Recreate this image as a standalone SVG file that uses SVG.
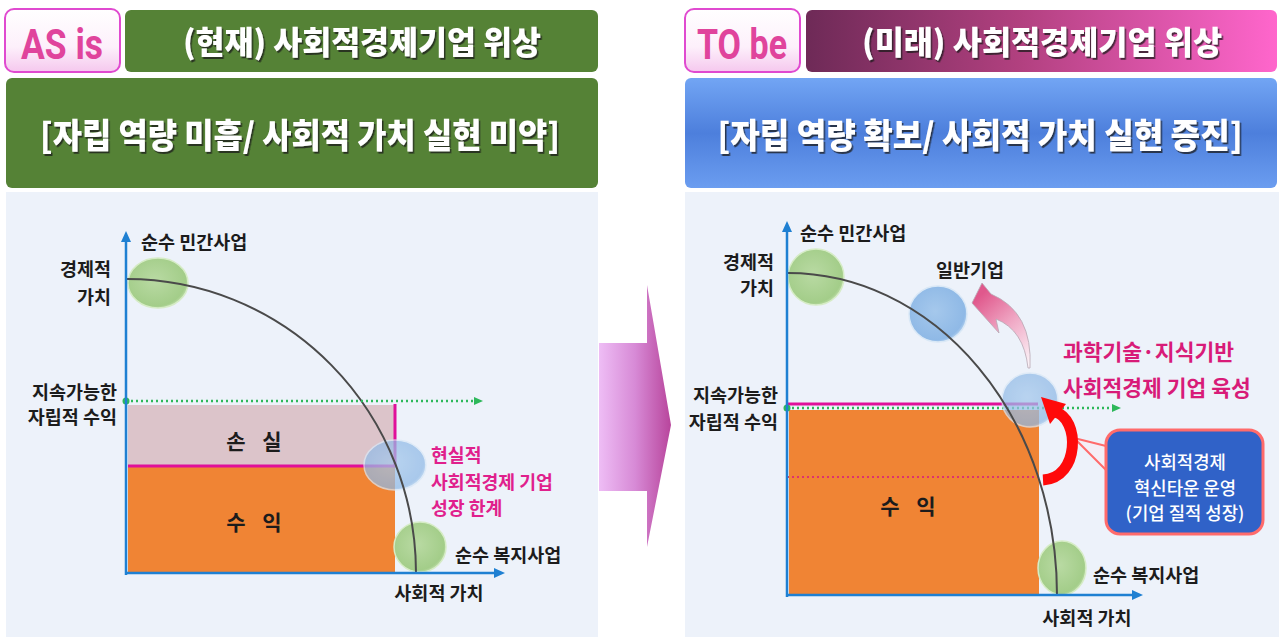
<svg xmlns="http://www.w3.org/2000/svg" width="1279" height="637" viewBox="0 0 1279 637">
<defs>
<style>
.hd{font-family:"Noto Sans CJK KR","Noto Sans",sans-serif;font-weight:900;fill:#ffffff;text-anchor:middle}
.tag{font-family:"Roboto","Liberation Sans",sans-serif;font-weight:700;fill:#e0449c;text-anchor:middle}
.lb{font-family:"Noto Sans CJK KR","Noto Sans",sans-serif;font-weight:700;fill:#1c1c1c;font-size:18.5px}
.pk{font-family:"Noto Sans CJK KR","Noto Sans",sans-serif;font-weight:700;fill:#e0208c;font-size:18.3px}
.pk2{font-family:"Noto Sans CJK KR","Noto Sans",sans-serif;font-weight:700;fill:#d81b78;font-size:21.5px}
.cw{font-family:"Noto Sans CJK KR","Noto Sans",sans-serif;font-weight:500;fill:#ffffff;font-size:17.8px;text-anchor:middle}
.big{font-family:"Noto Sans CJK KR","Noto Sans",sans-serif;font-weight:700;fill:#1c1c1c;font-size:21px;text-anchor:middle;word-spacing:12px}
.axis{stroke:#1f80d2;stroke-width:2.5;fill:none}
.axh{fill:#1f80d2}
.curve{stroke:#4a4a4a;stroke-width:2;fill:none}
.gdot{stroke:#2db85a;stroke-width:2.5;stroke-dasharray:2 3;fill:none}
.gfill{fill:#2db85a}
.mg{stroke:#e0109a;stroke-width:3;fill:none}
.orange{fill:#f08434}
.ge{fill:url(#gG);stroke:#d6ecc6;stroke-width:1.5}
.be{fill:url(#gB);stroke:#d9e8f6;stroke-width:1.5}
.panel{fill:#edf2fa}
</style>
<linearGradient id="gTag" x1="0" y1="0" x2="0" y2="1">
<stop offset="0" stop-color="#ffffff"/><stop offset="0.6" stop-color="#fdf0fb"/><stop offset="1" stop-color="#f5c8ee"/>
</linearGradient>
<linearGradient id="gPink" x1="0" y1="0" x2="1" y2="0">
<stop offset="0" stop-color="#6e2a57"/><stop offset="0.45" stop-color="#b1407f"/><stop offset="1" stop-color="#ff66cc"/>
</linearGradient>
<linearGradient id="gBlue" x1="0" y1="0" x2="0" y2="1">
<stop offset="0" stop-color="#72a5f4"/><stop offset="0.5" stop-color="#4d7fdc"/><stop offset="1" stop-color="#6b9df0"/>
</linearGradient>
<linearGradient id="gArrow" x1="0" y1="0" x2="1" y2="0">
<stop offset="0" stop-color="#eebdf5"/><stop offset="0.5" stop-color="#d78ad6"/><stop offset="1" stop-color="#b8459c"/>
</linearGradient>
<linearGradient id="gCurl" gradientUnits="userSpaceOnUse" x1="975" y1="300" x2="1030" y2="362">
<stop offset="0" stop-color="#e0588c"/><stop offset="0.5" stop-color="#f0aac6"/><stop offset="1" stop-color="#fbf1f6"/>
</linearGradient>
<radialGradient id="gG" cx="0.45" cy="0.45" r="0.6">
<stop offset="0" stop-color="#b9daa3"/><stop offset="0.85" stop-color="#a3cd89"/><stop offset="1" stop-color="#c8e3b5"/>
</radialGradient>
<radialGradient id="gB" cx="0.45" cy="0.45" r="0.6">
<stop offset="0" stop-color="#a5c8ec"/><stop offset="0.85" stop-color="#8fb9e6"/><stop offset="1" stop-color="#c5dcf3"/>
</radialGradient>
<filter id="sh" x="-5%" y="-20%" width="110%" height="140%">
<feDropShadow dx="1.5" dy="2" stdDeviation="0.6" flood-color="#1a1a1a" flood-opacity="0.75"/>
</filter>
</defs>

<rect width="1279" height="637" fill="#ffffff"/>

<!-- LEFT SIDE -->
<g id="as-is-tag">
<rect x="5" y="9" width="115" height="63" rx="9" fill="url(#gTag)" stroke="#e04ad0" stroke-width="2"/>
<text class="tag" x="62" y="59" font-size="42" textLength="82" lengthAdjust="spacingAndGlyphs">AS is</text>
</g>
<g id="as-is-title">
<rect x="125" y="10" width="473" height="62" rx="6" fill="#558236"/>
<text class="hd" x="362" y="54" font-size="32" textLength="358" lengthAdjust="spacingAndGlyphs" filter="url(#sh)">(현재) 사회적경제기업 위상</text>
</g>
<g id="as-is-subtitle">
<rect x="6" y="78" width="592" height="110" rx="6" fill="#558236"/>
<text class="hd" x="300" y="148" font-size="34" textLength="520" lengthAdjust="spacingAndGlyphs" filter="url(#sh)">[자립 역량 미흡/ 사회적 가치 실현 미약]</text>
</g>
<g id="as-is-chart">
<rect class="panel" x="6" y="192" width="592" height="445"/>
<rect x="128" y="405" width="267" height="61" fill="#dcc4ca"/>
<rect class="orange" x="128" y="467" width="267" height="106"/>
<path class="mg" d="M128,466 H395 V404"/>
<text class="big" x="254" y="449">손 실</text>
<text class="big" x="254" y="530">수 익</text>
<ellipse class="ge" cx="420" cy="547" rx="26" ry="25"/>
<ellipse class="be" cx="395" cy="465" rx="31" ry="25" opacity="0.72"/>
<ellipse class="ge" cx="158" cy="283" rx="30" ry="25"/>
<path class="curve" d="M127,279 A289,294 0 0 1 416,573"/>
<line class="gdot" x1="126" y1="401" x2="476" y2="401"/>
<polygon class="gfill" points="474,397 483,401 474,405"/>
<circle class="gfill" cx="126" cy="401" r="3.5"/>
<line class="axis" x1="126" y1="575" x2="126" y2="240"/>
<polygon class="axh" points="121,242 126,231 131,242"/>
<line class="axis" x1="125" y1="573" x2="497" y2="573"/>
<polygon class="axh" points="494,568 505,573 494,578"/>
<text class="lb" x="141" y="249">순수 민간사업</text>
<text class="lb" x="111" y="276" text-anchor="end">경제적</text>
<text class="lb" x="111" y="304" text-anchor="end">가치</text>
<text class="lb" x="117" y="399" text-anchor="end">지속가능한</text>
<text class="lb" x="117" y="424" text-anchor="end">자립적 수익</text>
<text class="pk" x="431" y="462">현실적</text>
<text class="pk" x="431" y="489">사회적경제 기업</text>
<text class="pk" x="431" y="515">성장 한계</text>
<text class="lb" x="455" y="562">순수 복지사업</text>
<text class="lb" x="439" y="600" text-anchor="middle">사회적 가치</text>
</g>

<!-- RIGHT SIDE -->
<g id="to-be-tag">
<rect x="685" y="9" width="115" height="63" rx="9" fill="url(#gTag)" stroke="#e04ad0" stroke-width="2"/>
<text class="tag" x="742" y="59" font-size="42" textLength="90" lengthAdjust="spacingAndGlyphs">TO be</text>
</g>
<g id="to-be-title">
<rect x="806" y="10" width="471" height="62" rx="6" fill="url(#gPink)"/>
<text class="hd" x="1042" y="54" font-size="32" textLength="360" lengthAdjust="spacingAndGlyphs" filter="url(#sh)">(미래) 사회적경제기업 위상</text>
</g>
<g id="to-be-subtitle">
<rect x="685" y="78" width="592" height="110" rx="6" fill="url(#gBlue)"/>
<text class="hd" x="980" y="148" font-size="34" textLength="525" lengthAdjust="spacingAndGlyphs" filter="url(#sh)">[자립 역량 확보/ 사회적 가치 실현 증진]</text>
</g>
<g id="to-be-chart">
<rect class="panel" x="685" y="192" width="594" height="445"/>
<rect class="orange" x="789" y="410" width="250" height="185"/>
<line x1="787" y1="477" x2="1040" y2="477" stroke="#e0306e" stroke-width="2" stroke-dasharray="2 3"/>
<text class="big" x="908" y="514">수 익</text>
<ellipse class="ge" cx="816" cy="277" rx="28" ry="28"/>
<ellipse class="be" cx="938" cy="314" rx="29" ry="28"/>
<ellipse class="ge" cx="1062" cy="568" rx="24" ry="27"/>
<line class="mg" x1="787" y1="404" x2="1038" y2="404"/>
<line class="gdot" x1="787" y1="408" x2="1114" y2="408"/>
<polygon class="gfill" points="1112,404 1121,408 1112,412"/>
<circle class="gfill" cx="787" cy="408" r="3.5"/>
<ellipse class="be" cx="1030" cy="400" rx="28" ry="27" opacity="0.72"/>
<path class="curve" d="M788,273 A269,322 0 0 1 1057,595"/>
<line class="axis" x1="787" y1="597" x2="787" y2="230"/>
<polygon class="axh" points="782,232 787,221 792,232"/>
<line class="axis" x1="786" y1="595" x2="1135" y2="595"/>
<polygon class="axh" points="1132,590 1143,595 1132,600"/>
<text class="lb" x="800" y="240">순수 민간사업</text>
<text class="lb" x="774" y="269" text-anchor="end">경제적</text>
<text class="lb" x="774" y="295" text-anchor="end">가치</text>
<text class="lb" x="778" y="402" text-anchor="end">지속가능한</text>
<text class="lb" x="778" y="429" text-anchor="end">자립적 수익</text>
<text class="lb" x="970" y="277" text-anchor="middle">일반기업</text>
<text class="pk2" x="1063" y="360">과학기술·지식기반</text>
<text class="pk2" x="1063" y="396">사회적경제 기업 육성</text>
<text class="lb" x="1093" y="582">순수 복지사업</text>
<text class="lb" x="1087" y="625" text-anchor="middle">사회적 가치</text>
</g>
<g id="callout">
<polygon points="1074,438 1110,447 1110,474" fill="#f4eef6" stroke="#ff6b6b" stroke-width="2" stroke-linejoin="round"/>
<rect x="1106" y="430" width="157" height="104" rx="14" fill="#3062c8" stroke="#ff6b6b" stroke-width="3"/>
<text class="cw" x="1185" y="469">사회적경제</text>
<text class="cw" x="1185" y="495">혁신타운 운영</text>
<text class="cw" x="1185" y="520">(기업 질적 성장)</text>
</g>

<!-- CONNECTORS -->
<g id="connectors">
<polygon points="599,343 647,343 647,285 671,425 647,547 647,491 599,491" fill="url(#gArrow)"/>
<path d="M1030,368 Q1033,312 991,294 L982,283 L972,303 L999,333 L996,319 Q1024,330 1028,368 Z" fill="url(#gCurl)" stroke="#b8a8b4" stroke-width="0.8"/>
<path d="M1043,480 C1080,478 1080,418 1055,412" fill="none" stroke="#ff0a0a" stroke-width="11"/>
<polygon points="1041,397 1066,404 1050,424" fill="#ff0a0a"/>
</g>
</svg>
